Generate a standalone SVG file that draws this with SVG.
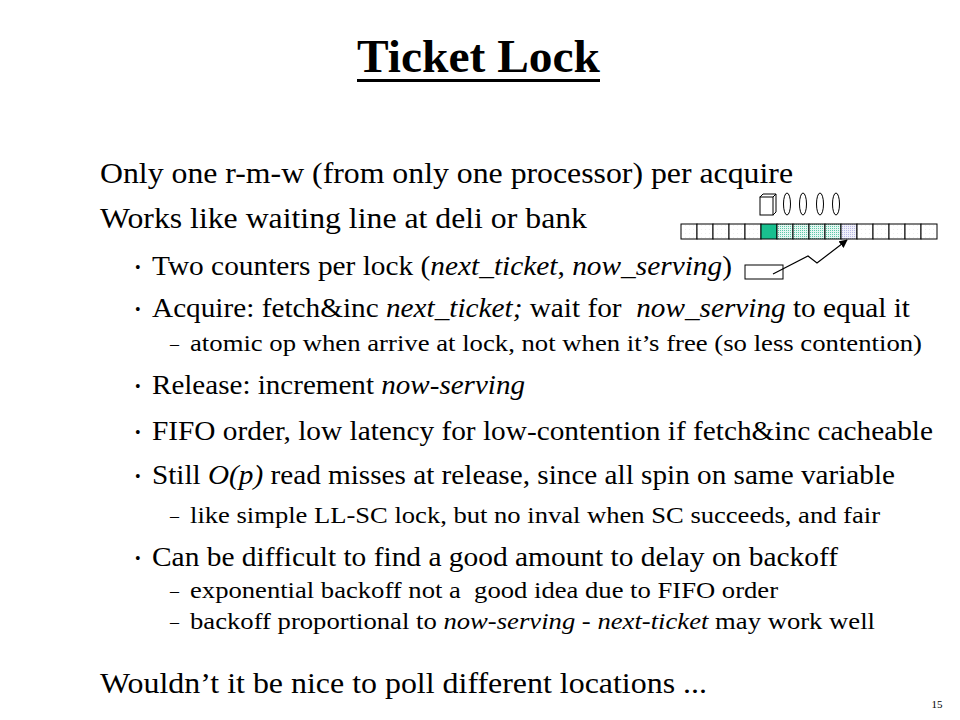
<svg xmlns="http://www.w3.org/2000/svg" width="960" height="720" viewBox="0 0 960 720">
<style>
.t{font-family:"Liberation Serif","Times New Roman",serif;fill:#000;white-space:pre}
.l1{font-size:30px}
.l2{font-size:28px}
.l3{font-size:24px}
.b{font-size:16px}
.d{font-size:18px}
.cell{stroke:#000;stroke-width:1}
.i{font-style:italic}
</style>
<defs>
<pattern id="pw" width="4" height="4" patternUnits="userSpaceOnUse"><rect width="4" height="4" fill="#fff"/><rect x="1" y="1" width="1" height="1" fill="#f0f0f0"/></pattern>
<pattern id="pc" width="2" height="2" patternUnits="userSpaceOnUse"><rect width="2" height="2" fill="#e6f7f2"/><rect width="1" height="1" fill="#5cc9a8"/></pattern>
<pattern id="pl" width="2" height="2" patternUnits="userSpaceOnUse"><rect width="2" height="2" fill="#f0f0fa"/><rect width="1" height="1" fill="#b8b8e6"/></pattern>
<marker id="ah" viewBox="0 0 10 10" refX="9" refY="5" markerWidth="7" markerHeight="7" orient="auto"><path d="M0,0 L10,5 L0,10 z" fill="#000"/></marker>
</defs>
<rect width="960" height="720" fill="#fff"/>
<g id="title">
<text class="t" x="478.5" y="72" font-size="46" font-weight="bold" text-anchor="middle" textLength="243" lengthAdjust="spacingAndGlyphs">Ticket Lock</text>
<rect x="357" y="79" width="243" height="3" fill="#000"/>
</g>
<g id="text">
<text class="t l1" x="100" y="183" textLength="693" lengthAdjust="spacingAndGlyphs">Only one r-m-w (from only one processor) per acquire</text>
<text class="t l1" x="100" y="228" textLength="487" lengthAdjust="spacingAndGlyphs">Works like waiting line at deli or bank</text>
<text class="t b" x="135" y="273">•</text>
<text class="t l2" x="152" y="275" textLength="580" lengthAdjust="spacingAndGlyphs">Two counters per lock (<tspan class="i">next_ticket</tspan>, <tspan class="i">now_serving</tspan>)</text>
<text class="t b" x="135" y="315">•</text>
<text class="t l2" x="152" y="317" textLength="758" lengthAdjust="spacingAndGlyphs">Acquire: fetch&amp;inc <tspan class="i">next_ticket;</tspan> wait for  <tspan class="i">now_serving</tspan> to equal it</text>
<text class="t d" x="170" y="350">–</text>
<text class="t l3" x="190" y="351" textLength="732" lengthAdjust="spacingAndGlyphs">atomic op when arrive at lock, not when it’s free (so less contention)</text>
<text class="t b" x="135" y="392">•</text>
<text class="t l2" x="152" y="394" textLength="373" lengthAdjust="spacingAndGlyphs">Release: increment <tspan class="i">now-serving</tspan></text>
<text class="t b" x="135" y="438">•</text>
<text class="t l2" x="152" y="440" textLength="781" lengthAdjust="spacingAndGlyphs">FIFO order, low latency for low-contention if fetch&amp;inc cacheable</text>
<text class="t b" x="135" y="482">•</text>
<text class="t l2" x="152" y="484" textLength="743" lengthAdjust="spacingAndGlyphs">Still <tspan class="i">O(p)</tspan> read misses at release, since all spin on same variable</text>
<text class="t d" x="170" y="522">–</text>
<text class="t l3" x="190" y="523" textLength="690" lengthAdjust="spacingAndGlyphs">like simple LL-SC lock, but no inval when SC succeeds, and fair</text>
<text class="t b" x="135" y="564">•</text>
<text class="t l2" x="152" y="566" textLength="686" lengthAdjust="spacingAndGlyphs">Can be difficult to find a good amount to delay on backoff</text>
<text class="t d" x="170" y="597">–</text>
<text class="t l3" x="190" y="598" textLength="588" lengthAdjust="spacingAndGlyphs">exponential backoff not a  good idea due to FIFO order</text>
<text class="t d" x="170" y="628">–</text>
<text class="t l3" x="190" y="629" textLength="685" lengthAdjust="spacingAndGlyphs">backoff proportional to <tspan class="i">now-serving</tspan> - <tspan class="i">next-ticket</tspan> may work well</text>
<text class="t l1" x="100" y="693" textLength="607" lengthAdjust="spacingAndGlyphs">Wouldn’t it be nice to poll different locations ...</text>
<text class="t" x="937" y="708" font-size="11" text-anchor="middle">15</text>
</g>
<g id="queue">
<rect class="cell" x="681" y="224" width="16" height="15" fill="url(#pw)"/>
<rect class="cell" x="697" y="224" width="16" height="15" fill="url(#pw)"/>
<rect class="cell" x="713" y="224" width="16" height="15" fill="url(#pw)"/>
<rect class="cell" x="729" y="224" width="16" height="15" fill="url(#pw)"/>
<rect class="cell" x="745" y="224" width="16" height="15" fill="url(#pw)"/>
<rect class="cell" x="761" y="224" width="16" height="15" fill="#19c08f"/>
<rect class="cell" x="777" y="224" width="16" height="15" fill="url(#pc)"/>
<rect class="cell" x="793" y="224" width="16" height="15" fill="url(#pc)"/>
<rect class="cell" x="809" y="224" width="16" height="15" fill="url(#pc)"/>
<rect class="cell" x="825" y="224" width="16" height="15" fill="url(#pc)"/>
<rect class="cell" x="841" y="224" width="16" height="15" fill="url(#pl)"/>
<rect class="cell" x="857" y="224" width="16" height="15" fill="url(#pw)"/>
<rect class="cell" x="873" y="224" width="16" height="15" fill="url(#pw)"/>
<rect class="cell" x="889" y="224" width="16" height="15" fill="url(#pw)"/>
<rect class="cell" x="905" y="224" width="16" height="15" fill="url(#pw)"/>
<rect class="cell" x="921" y="224" width="16" height="15" fill="url(#pw)"/>
</g>
<g id="people" fill="#fff" stroke="#000" stroke-width="1">
<path d="M760,197 L763,194 L776,194 L776,212 L773,215 Z"/>
<rect x="760" y="197" width="13" height="18"/>
<path d="M773,197 L776,194"/>
<ellipse cx="787" cy="204" rx="3.5" ry="11"/>
<ellipse cx="803" cy="204" rx="3.5" ry="11"/>
<ellipse cx="820" cy="204" rx="3.5" ry="11"/>
<ellipse cx="836" cy="204" rx="3.5" ry="11"/>
</g>
<g id="counter">
<rect x="745" y="265" width="38" height="14" fill="#fff" stroke="#000" stroke-width="1"/>
</g>
<g id="connectors">
<polyline points="773,274 808,256 817,263 847,240" fill="none" stroke="#000" stroke-width="1.2" marker-end="url(#ah)"/>
</g>
</svg>
